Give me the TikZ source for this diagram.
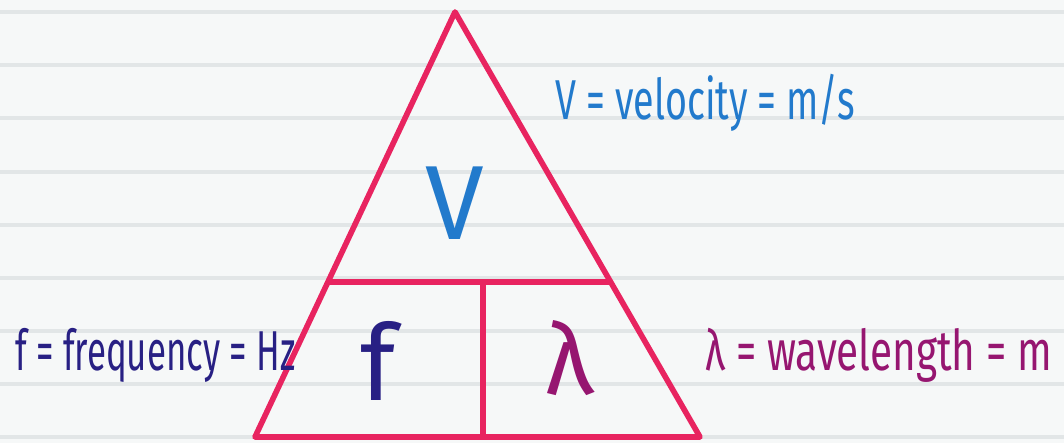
\documentclass[tikz,border=0pt]{standalone}
\usepackage{fontspec}
\setmainfont{Fira Sans}
\usepackage{tikz}
\usetikzlibrary{calc}
\definecolor{paper}{RGB}{246,248,248}
\definecolor{rule}{RGB}{226,230,231}
\definecolor{ink}{RGB}{232,36,96}
\definecolor{vblue}{RGB}{34,122,204}
\definecolor{fnavy}{RGB}{40,32,132}
\definecolor{lpurple}{RGB}{150,22,112}
\tikzset{
  edge/.style={ink,line width=1.6pt,line join=round},
  symbol/.style={inner sep=0pt,font=\fontsize{30}{30}\selectfont},
  label/.style={inner sep=0pt,anchor=west,transform shape,font=\fontsize{16}{18}\selectfont}
}

\begin{document}
\begin{tikzpicture}
\fill[paper] (0,0) rectangle (10.64,4.43);
\useasboundingbox (0,0) rectangle (10.64,4.43);
\foreach \y in {4.31,3.78,3.25,2.71,2.18,1.65,1.12,0.59,0.06}
  \draw[rule,line width=1.2pt] (0,\y) -- (10.64,\y);
\coordinate (apex) at (4.55,4.31);
\coordinate (bl) at (2.55,0.06);
\coordinate (br) at (7.00,0.06);
\coordinate (ml) at ($(apex)!0.635!(bl)$);
\coordinate (mr) at ($(apex)!0.635!(br)$);
\coordinate (mb) at (4.83,0.06);
\draw[edge] (apex) -- (bl) -- (br) -- cycle;
\draw[edge] (ml) -- (mr);
\draw[edge] (ml -| mb) -- (mb);
\node[symbol,vblue] (v) at (4.55,2.40) {V};
\node[symbol,lpurple,font=\fontsize{28}{28}\selectfont] (lam) at (5.70,0.85) {λ};
\node[symbol,fnavy] (f) at (3.78,0.82) {f};
\node[label,vblue,xscale=0.67] (vtext) at (5.55,3.40) {V = velocity = m/s};
\node[label,fnavy,xscale=0.62] (ftext) at (0.15,0.88) {f = frequency = Hz};
\node[label,lpurple,xscale=0.72] (ltext) at (7.05,0.88) {λ = wavelength = m};
\end{tikzpicture}
\end{document}
